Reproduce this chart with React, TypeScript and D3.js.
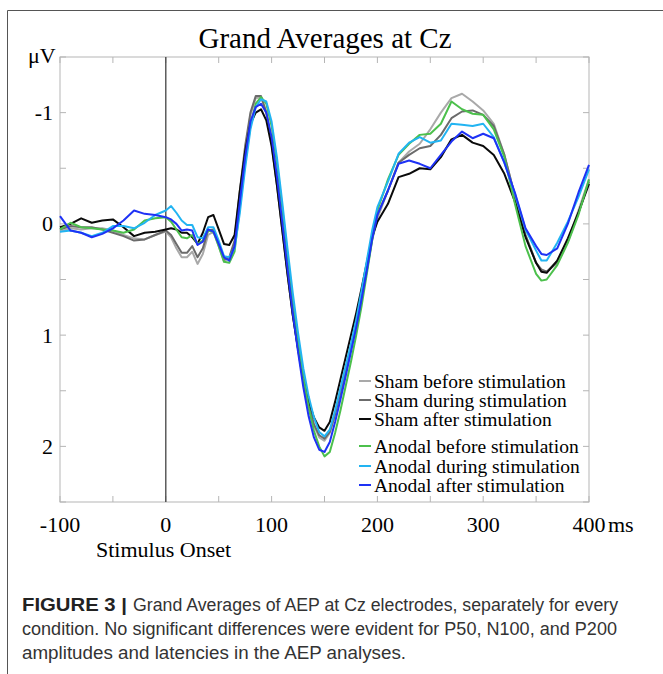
import React from "react";
import * as d3 from "d3";

const times = [-100,-90,-80,-70,-60,-50,-40,-30,-20,-10,0,5,10,15,20,25,30,35,40,45,50,55,60,65,70,75,80,85,90,95,100,105,110,115,120,125,130,135,140,145,150,155,160,165,170,175,180,185,190,195,200,210,220,230,240,250,260,270,280,290,300,310,320,330,340,350,355,360,370,380,390,400];

const shamBefore = [0.07,0.04,0.05,0.04,0.04,0.06,0.10,0.13,0.14,0.10,0.07,
  0.12,0.22,0.30,0.30,0.25,0.36,0.27,0.10,0.07,0.20,0.34,0.30,0.18,
  -0.25,-0.65,-0.98,-1.13,-1.14,-1.00,-0.75,-0.38,0.02,0.42,0.80,1.12,1.42,1.65,1.81,1.92,1.95,1.88,1.71,1.52,1.33,1.13,0.92,0.68,0.42,0.15,-0.05,
  -0.30,-0.55,-0.65,-0.72,-0.85,-1.00,-1.13,-1.17,-1.10,-1.02,-0.90,-0.62,-0.25,0.10,0.35,0.42,0.43,0.33,0.15,-0.12,-0.40];

const shamDuring = [0.05,0.02,0.03,0.03,0.05,0.08,0.11,0.15,0.14,0.10,0.06,
  0.10,0.18,0.26,0.26,0.20,0.30,0.22,0.06,0.05,0.18,0.32,0.30,0.15,
  -0.30,-0.70,-1.00,-1.15,-1.15,-1.00,-0.72,-0.35,0.05,0.45,0.82,1.13,1.42,1.64,1.80,1.90,1.93,1.87,1.71,1.52,1.33,1.12,0.90,0.66,0.40,0.13,-0.08,
  -0.30,-0.55,-0.62,-0.68,-0.70,-0.80,-0.95,-1.01,-1.02,-0.98,-0.88,-0.62,-0.25,0.10,0.35,0.41,0.43,0.35,0.16,-0.10,-0.38];

const shamAfter = [0.03,0.00,-0.05,-0.01,-0.03,-0.04,0.03,0.11,0.08,0.07,0.05,
  0.04,0.05,0.08,0.08,0.12,0.18,0.08,-0.06,-0.08,0.05,0.18,0.19,0.10,
  -0.30,-0.65,-0.90,-1.00,-1.03,-0.93,-0.70,-0.35,0.05,0.45,0.82,1.12,1.38,1.59,1.74,1.83,1.86,1.78,1.60,1.40,1.20,1.00,0.80,0.58,0.35,0.12,-0.02,
  -0.18,-0.42,-0.45,-0.50,-0.49,-0.60,-0.76,-0.80,-0.73,-0.70,-0.62,-0.45,-0.20,0.12,0.35,0.43,0.44,0.33,0.13,-0.10,-0.36];

const anodalBefore = [0.05,-0.01,0.03,0.04,0.05,0.06,0.08,0.05,-0.03,-0.05,-0.06,
  -0.02,0.05,0.12,0.13,0.10,0.18,0.15,0.06,0.07,0.20,0.34,0.35,0.25,
  -0.15,-0.55,-0.88,-1.08,-1.14,-1.08,-0.88,-0.55,-0.15,0.28,0.68,1.05,1.38,1.65,1.86,2.00,2.09,2.05,1.88,1.68,1.46,1.24,1.00,0.74,0.45,0.15,-0.12,
  -0.40,-0.62,-0.72,-0.80,-0.81,-0.90,-1.10,-1.03,-0.99,-0.98,-0.85,-0.60,-0.18,0.20,0.45,0.51,0.50,0.37,0.17,-0.08,-0.40];

const anodalDuring = [0.07,0.06,0.08,0.11,0.08,0.02,0.02,0.04,-0.01,-0.08,-0.12,
  -0.16,-0.10,-0.03,0.01,0.01,0.12,0.13,0.03,0.03,0.15,0.29,0.30,0.22,
  -0.10,-0.50,-0.85,-1.05,-1.12,-1.10,-0.92,-0.60,-0.20,0.22,0.62,0.98,1.30,1.55,1.74,1.87,1.91,1.85,1.68,1.48,1.28,1.08,0.86,0.60,0.33,0.06,-0.15,
  -0.38,-0.63,-0.73,-0.78,-0.73,-0.75,-0.90,-0.89,-0.88,-0.90,-0.78,-0.55,-0.27,0.05,0.24,0.33,0.33,0.17,-0.02,-0.24,-0.49];

const anodalAfter = [-0.07,0.06,0.08,0.12,0.09,0.04,-0.03,-0.12,-0.09,-0.08,-0.06,
  -0.04,0.00,0.06,0.05,0.06,0.19,0.16,0.05,0.07,0.18,0.30,0.33,0.20,
  -0.20,-0.60,-0.92,-1.05,-1.08,-1.00,-0.78,-0.43,-0.02,0.40,0.80,1.15,1.47,1.73,1.92,2.03,2.05,1.96,1.78,1.58,1.37,1.15,0.93,0.68,0.42,0.14,-0.08,
  -0.30,-0.54,-0.57,-0.54,-0.50,-0.62,-0.74,-0.83,-0.77,-0.81,-0.77,-0.55,-0.28,0.04,0.20,0.27,0.28,0.22,0.00,-0.28,-0.53];

const seriesNames = ["Sham before stimulation","Sham during stimulation","Sham after stimulation","Anodal before stimulation","Anodal during stimulation","Anodal after stimulation"];
const seriesValues = [shamBefore, shamDuring, shamAfter, anodalBefore, anodalDuring, anodalAfter];
const seriesColors = ["#a9a9a9", "#6b6b6b", "#0a0a0a", "#4cc04c", "#22b4f2", "#1e32f5"];

const xTickLabels = [-100, 0, 100, 200, 300, 400];
const xMinorTicks = [-100,-50,0,50,100,150,200,250,300,350,400];
const yTickLabels = [-1, 0, 1, 2];
const yMinorTicks = [-1.5,-1,-0.5,0,0.5,1,1.5,2,2.5];

const captionLabel = "FIGURE 3 |";
const captionLines = [
  "Grand Averages of AEP at Cz electrodes, separately for every",
  "condition. No significant differences were evident for P50, N100, and P200",
  "amplitudes and latencies in the AEP analyses.",
];

export default function App() {
  const W = 663, H = 674;
  const L = 60, R = 589, T = 57, B = 502;
  const x = d3.scaleLinear().domain([-100, 400]).range([L, R]);
  const y = d3.scaleLinear().domain([-1.5, 2.5]).range([T, B]);
  const line = d3.line<number>().x((_, i) => x(times[i])).y((v) => y(v));
  const serif = "'Liberation Serif', 'Times New Roman', serif";
  const sans = "'Liberation Sans', Arial, sans-serif";
  const frameColor = "#b5b5b5";
  const tl = 6;

  const legendY = [381, 400, 419, 446, 466, 485];
  const capFs = 17.5;

  return (
    <svg width={W} height={H} style={{ position: "absolute", left: 0, top: 0 }} xmlns="http://www.w3.org/2000/svg">
      <rect x={0} y={0} width={W} height={H} fill="#fff" />
      {/* outer figure frame */}
      <line x1={7.5} y1={10.5} x2={W} y2={10.5} stroke="#555" strokeWidth={1} />
      <line x1={7.5} y1={10.5} x2={7.5} y2={H} stroke="#555" strokeWidth={1} />

      <text x={325} y={48} textAnchor="middle" fontFamily={serif} fontSize={29} fill="#000">Grand Averages at Cz</text>
      <text x={28} y={63} fontFamily={serif} fontSize={22} fill="#000">μV</text>

      {/* plot frame */}
      <rect x={L} y={T} width={R - L} height={B - T} fill="none" stroke={frameColor} strokeWidth={1} />
      {xMinorTicks.map((t) => (
        <g key={"xt" + t}>
          <line x1={x(t)} x2={x(t)} y1={B} y2={B - tl} stroke={frameColor} />
          <line x1={x(t)} x2={x(t)} y1={T} y2={T + tl} stroke={frameColor} />
        </g>
      ))}
      {yMinorTicks.map((v) => (
        <g key={"yt" + v}>
          <line x1={L} x2={L + tl} y1={y(v)} y2={y(v)} stroke={frameColor} />
          <line x1={R} x2={R - tl} y1={y(v)} y2={y(v)} stroke={frameColor} />
        </g>
      ))}

      {/* stimulus onset line */}
      <line x1={x(0)} x2={x(0)} y1={T} y2={B} stroke="#444" strokeWidth={1.3} />

      {seriesValues.map((vals, i) => (
        <path key={seriesNames[i]} d={line(vals) || ""} fill="none" stroke={seriesColors[i]} strokeWidth={2} strokeLinejoin="round" />
      ))}

      {xTickLabels.map((t) => (
        <text key={"xl" + t} x={x(t)} y={532} textAnchor="middle" fontFamily={serif} fontSize={22} fill="#000">{t}</text>
      ))}
      <text x={608} y={532} fontFamily={serif} fontSize={22} fill="#000">ms</text>
      {yTickLabels.map((v) => (
        <text key={"yl" + v} x={53} y={y(v) + 7.5} textAnchor="end" fontFamily={serif} fontSize={22} fill="#000">{v}</text>
      ))}
      <text x={96} y={557} fontFamily={serif} fontSize={22} fill="#000">Stimulus Onset</text>

      {/* legend */}
      {seriesNames.map((n, i) => (
        <g key={"lg" + n}>
          <line x1={359} x2={371} y1={legendY[i]} y2={legendY[i]} stroke={seriesColors[i]} strokeWidth={2} />
          <text x={374} y={legendY[i] + 6.5} fontFamily={serif} fontSize={19.5} fill="#000">{n}</text>
        </g>
      ))}

      {/* caption */}
      <text x={22} y={611} fontFamily={sans} fontSize={capFs} fontWeight="bold" fill="#222" textLength={105} lengthAdjust="spacingAndGlyphs">{captionLabel}</text>
      <text x={133} y={611} fontFamily={sans} fontSize={capFs} fill="#333" textLength={485} lengthAdjust="spacingAndGlyphs">{captionLines[0]}</text>
      <text x={22} y={635} fontFamily={sans} fontSize={capFs} fill="#333" textLength={595} lengthAdjust="spacingAndGlyphs">{captionLines[1]}</text>
      <text x={22} y={659} fontFamily={sans} fontSize={capFs} fill="#333" textLength={384} lengthAdjust="spacingAndGlyphs">{captionLines[2]}</text>
    </svg>
  );
}
